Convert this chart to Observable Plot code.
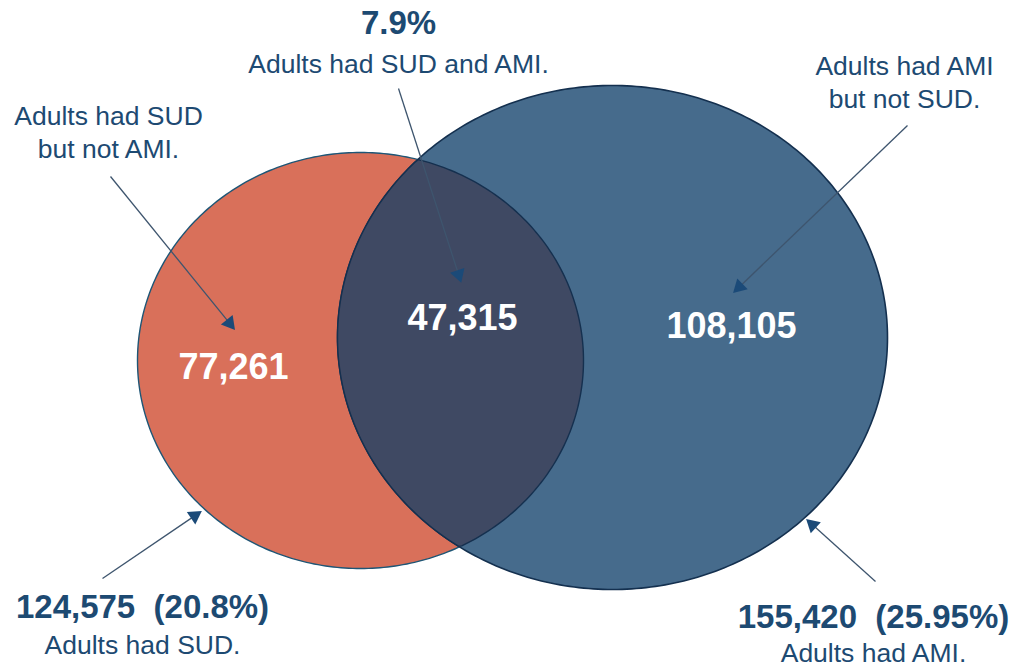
<!DOCTYPE html>
<html>
<head>
<meta charset="utf-8">
<script src="https://cdn.jsdelivr.net/npm/d3@7"></script>
<script src="https://cdn.jsdelivr.net/npm/@observablehq/plot@0.6"></script>
<style>
  html, body { margin: 0; padding: 0; background: #ffffff; }
  #chart svg { display: block; }
</style>
</head>
<body>
<div id="chart"></div>
<script>
// ---------------- DATA ----------------
const sets = ["SUD", "AMI"];
const setTotals = [124575, 155420];
const setShares = ["20.8%", "25.95%"];
const setCaptions = ["Adults had SUD.", "Adults had AMI."];

const regions = ["SUD only", "SUD and AMI", "AMI only"];
const regionCounts = [77261, 47315, 108105];
const regionCaptions = ["Adults had SUD\nbut not AMI.", "Adults had SUD and AMI.", "Adults had AMI\nbut not SUD."];
const overlapShare = "7.9%";

// ---------------- LAYOUT (geometry & style, not data) ----------------
const W = 1015, H = 670;
const ellipseGeom = {
  SUD: {cx: 360, cy: 360, rx: 223, ry: 208},
  AMI: {cx: 612, cy: 337, rx: 275, ry: 252}
};
const colors = {SUD: "#d9705a", AMI: "#466b8c", both: "#3f4963", text: "#1d4a72", line: "#3e556e", head: "#1b4a78"};
const regionLabelPos = [[233, 367], [462, 318], [731, 326]];
const regionCaptionPos = [[108, 130], [398, 62], [904, 80]];
const regionArrows = [[[110, 176], [235, 330]], [[398, 88], [461, 283]], [[907, 125], [732, 293]]];
const setTotalPos = [[142, 607], [873, 617]];
const setCaptionPos = [[142, 645], [873, 653]];
const setArrows = [[[102, 578], [202, 510]], [[875, 581], [805, 518]]];
const overlapSharePos = [398, 23];

// ---------------- GEOMETRY HELPERS ----------------
const N = 360;
function outline(e, start) {
  const pts = [];
  for (let i = 0; i <= N; i++) {
    const t = start + (2 * Math.PI * i) / N;
    pts.push({x: e.cx + e.rx * Math.cos(t), y: e.cy + e.ry * Math.sin(t)});
  }
  return pts;
}
const inside = (p, e) => ((p.x - e.cx) / e.rx) ** 2 + ((p.y - e.cy) / e.ry) ** 2 <= 1;
const A = ellipseGeom.SUD, B = ellipseGeom.AMI;
const lens = [
  ...outline(A, -Math.PI).filter(p => inside(p, B)),
  ...outline(B, 0).filter(p => inside(p, A))
];

const fmt = d3.format(",");

const allArrows = [...regionArrows, ...setArrows].map(([[x1, y1], [x2, y2]]) => {
  const ang = Math.atan2(y2 - y1, x2 - x1);
  const tip = 9.5;
  return {x1, y1, x2, y2,
    hx: x2 - tip * Math.cos(ang), hy: y2 - tip * Math.sin(ang),
    rot: ang * 180 / Math.PI + 90};
});

const regionTable = regions.map((r, i) => ({
  region: r, count: fmt(regionCounts[i]),
  x: regionLabelPos[i][0], y: regionLabelPos[i][1],
  caption: regionCaptions[i], cx: regionCaptionPos[i][0], cy: regionCaptionPos[i][1]
}));
const setTable = sets.map((s, i) => ({
  set: s, total: `${fmt(setTotals[i])}\u00a0 (${setShares[i]})`, caption: setCaptions[i],
  x: setTotalPos[i][0], y: setTotalPos[i][1], cx: setCaptionPos[i][0], cy: setCaptionPos[i][1]
}));

const font = "Arial, 'Liberation Sans', Helvetica, sans-serif";

const chart = Plot.plot({
  width: W, height: H,
  margin: 0,
  x: {domain: [0, W], range: [0, W], axis: null},
  y: {domain: [0, H], range: [0, H], axis: null},
  style: {fontFamily: font, background: "#ffffff"},
  marks: [
    Plot.line(outline(A, 0), {x: "x", y: "y", curve: "linear-closed", fill: colors.SUD, stroke: "#1e5676", strokeWidth: 1.4}),
    Plot.line(outline(B, 0), {x: "x", y: "y", curve: "linear-closed", fill: colors.AMI, stroke: "#14304f", strokeWidth: 1.6}),
    Plot.line(lens, {x: "x", y: "y", curve: "linear-closed", fill: colors.both, stroke: "#15304f", strokeWidth: 1.4}),
    Plot.link(allArrows, {x1: "x1", y1: "y1", x2: "hx", y2: "hy", stroke: colors.line, strokeWidth: 1.3}),
    Plot.dot(allArrows, {x: "hx", y: "hy", symbol: "triangle", r: 5.6, rotate: "rot", fill: colors.head, stroke: "none"}),
    Plot.text(regionTable, {x: "x", y: "y", text: "count", fill: "#ffffff", fontSize: 36, fontWeight: "bold"}),
    Plot.text(regionTable, {x: "cx", y: "cy", text: "caption", fill: colors.text, fontSize: 26.5, lineHeight: 1.25}),
    Plot.text([overlapShare], {x: () => overlapSharePos[0], y: () => overlapSharePos[1], text: d => d, fill: colors.text, fontSize: 33, fontWeight: "bold"}),
    Plot.text(setTable, {x: "x", y: "y", text: "total", fill: colors.text, fontSize: 33, fontWeight: "bold"}),
    Plot.text(setTable, {x: "cx", y: "cy", text: "caption", fill: colors.text, fontSize: 26.5})
  ]
});
document.getElementById("chart").appendChild(chart);
</script>
</body>
</html>
